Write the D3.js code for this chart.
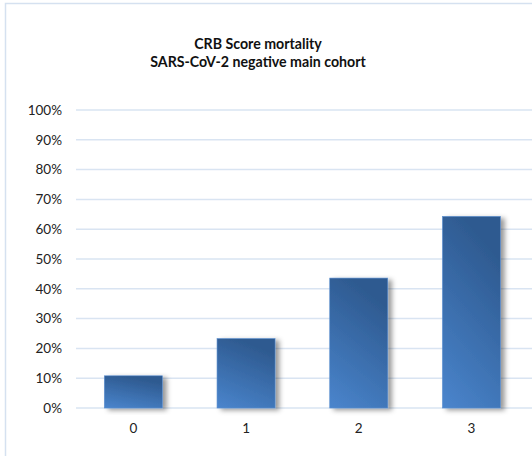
<!DOCTYPE html>
<html>
<head>
<meta charset="utf-8">
<script src="https://cdn.jsdelivr.net/npm/d3@7"></script>
<style>
  body { margin: 0; background: #fff; }
  svg { display: block; font-family: Lato, "Open Sans", sans-serif; }
</style>
</head>
<body>
<div id="chart"></div>
<script>
// data
const categories = ["0", "1", "2", "3"];
const mortality = [0.108, 0.233, 0.436, 0.643];
const yTicks = [0, 0.1, 0.2, 0.3, 0.4, 0.5, 0.6, 0.7, 0.8, 0.9, 1.0];
const titleLines = ["CRB Score mortality", "SARS-CoV-2 negative main cohort"];

const width = 532, height = 456;
const margin = { top: 110, right: 5, bottom: 48, left: 76 };

const svg = d3.select("#chart").append("svg")
    .attr("width", width)
    .attr("height", height);

const defs = svg.append("defs");

// bar fill: dark at top right, lighter towards bottom
const grad = defs.append("linearGradient")
    .attr("id", "barGrad")
    .attr("x1", "0").attr("y1", "1")
    .attr("x2", "0.35").attr("y2", "0");
grad.append("stop").attr("offset", "0%").attr("stop-color", "#4a85cd");
grad.append("stop").attr("offset", "100%").attr("stop-color", "#2e5a90");

const shadow = defs.append("filter")
    .attr("id", "shadow")
    .attr("x", "-20%").attr("y", "-10%")
    .attr("width", "160%").attr("height", "130%");
shadow.append("feDropShadow")
    .attr("dx", 4).attr("dy", 2)
    .attr("stdDeviation", 2.8)
    .attr("flood-color", "#000")
    .attr("flood-opacity", 0.4);

// outer chart border (only left and top visible)
svg.append("rect")
    .attr("x", 5.5).attr("y", 3.5)
    .attr("width", width + 20).attr("height", height + 20)
    .attr("fill", "none")
    .attr("stroke", "#d5e1f0")
    .attr("stroke-width", 1.5);

const x = d3.scaleBand()
    .domain(categories)
    .range([margin.left + 1, margin.left + 1 + 4 * 112.7])
    .paddingInner(0.485)
    .paddingOuter(0.2425);

const y = d3.scaleLinear()
    .domain([0, 1])
    .range([height - margin.bottom, margin.top]);

// gridlines
svg.append("g")
    .selectAll("line")
    .data(yTicks)
    .join("line")
    .attr("x1", margin.left)
    .attr("x2", width)
    .attr("y1", d => y(d))
    .attr("y2", d => y(d))
    .attr("stroke", "#d9e4f2")
    .attr("stroke-width", 1.5);

// y axis labels
const yAxis = svg.append("g")
    .attr("transform", `translate(${margin.left},0)`)
    .call(d3.axisLeft(y).tickValues(yTicks).tickFormat(d3.format(".0%")).tickSize(0).tickPadding(14));
yAxis.select(".domain").remove();
yAxis.selectAll("text")
    .attr("font-size", 13.5)
    .attr("fill", "#222")
    .attr("font-family", "Lato, sans-serif");

// x axis labels
const xAxis = svg.append("g")
    .attr("transform", `translate(0,${y(0)})`)
    .call(d3.axisBottom(x).tickSize(0).tickPadding(15));
xAxis.select(".domain").remove();
xAxis.selectAll("text")
    .attr("font-size", 13.5)
    .attr("fill", "#222")
    .attr("font-family", "Lato, sans-serif");

// bars
svg.append("g")
    .selectAll("rect")
    .data(mortality)
    .join("rect")
    .attr("x", (d, i) => x(categories[i]))
    .attr("y", d => y(d))
    .attr("width", x.bandwidth())
    .attr("height", d => y(0) - y(d))
    .attr("fill", "url(#barGrad)")
    .attr("stroke", "#5b8fd0")
    .attr("stroke-width", 0.6)
    .attr("filter", "url(#shadow)");

// title
svg.append("text")
    .attr("x", 258)
    .attr("y", 49)
    .attr("text-anchor", "middle")
    .attr("font-size", 14.2)
    .attr("font-weight", "bold")
    .attr("fill", "#111")
    .selectAll("tspan")
    .data(titleLines)
    .join("tspan")
    .attr("x", 258)
    .attr("dy", (d, i) => i === 0 ? 0 : 18)
    .text(d => d);
</script>
</body>
</html>
